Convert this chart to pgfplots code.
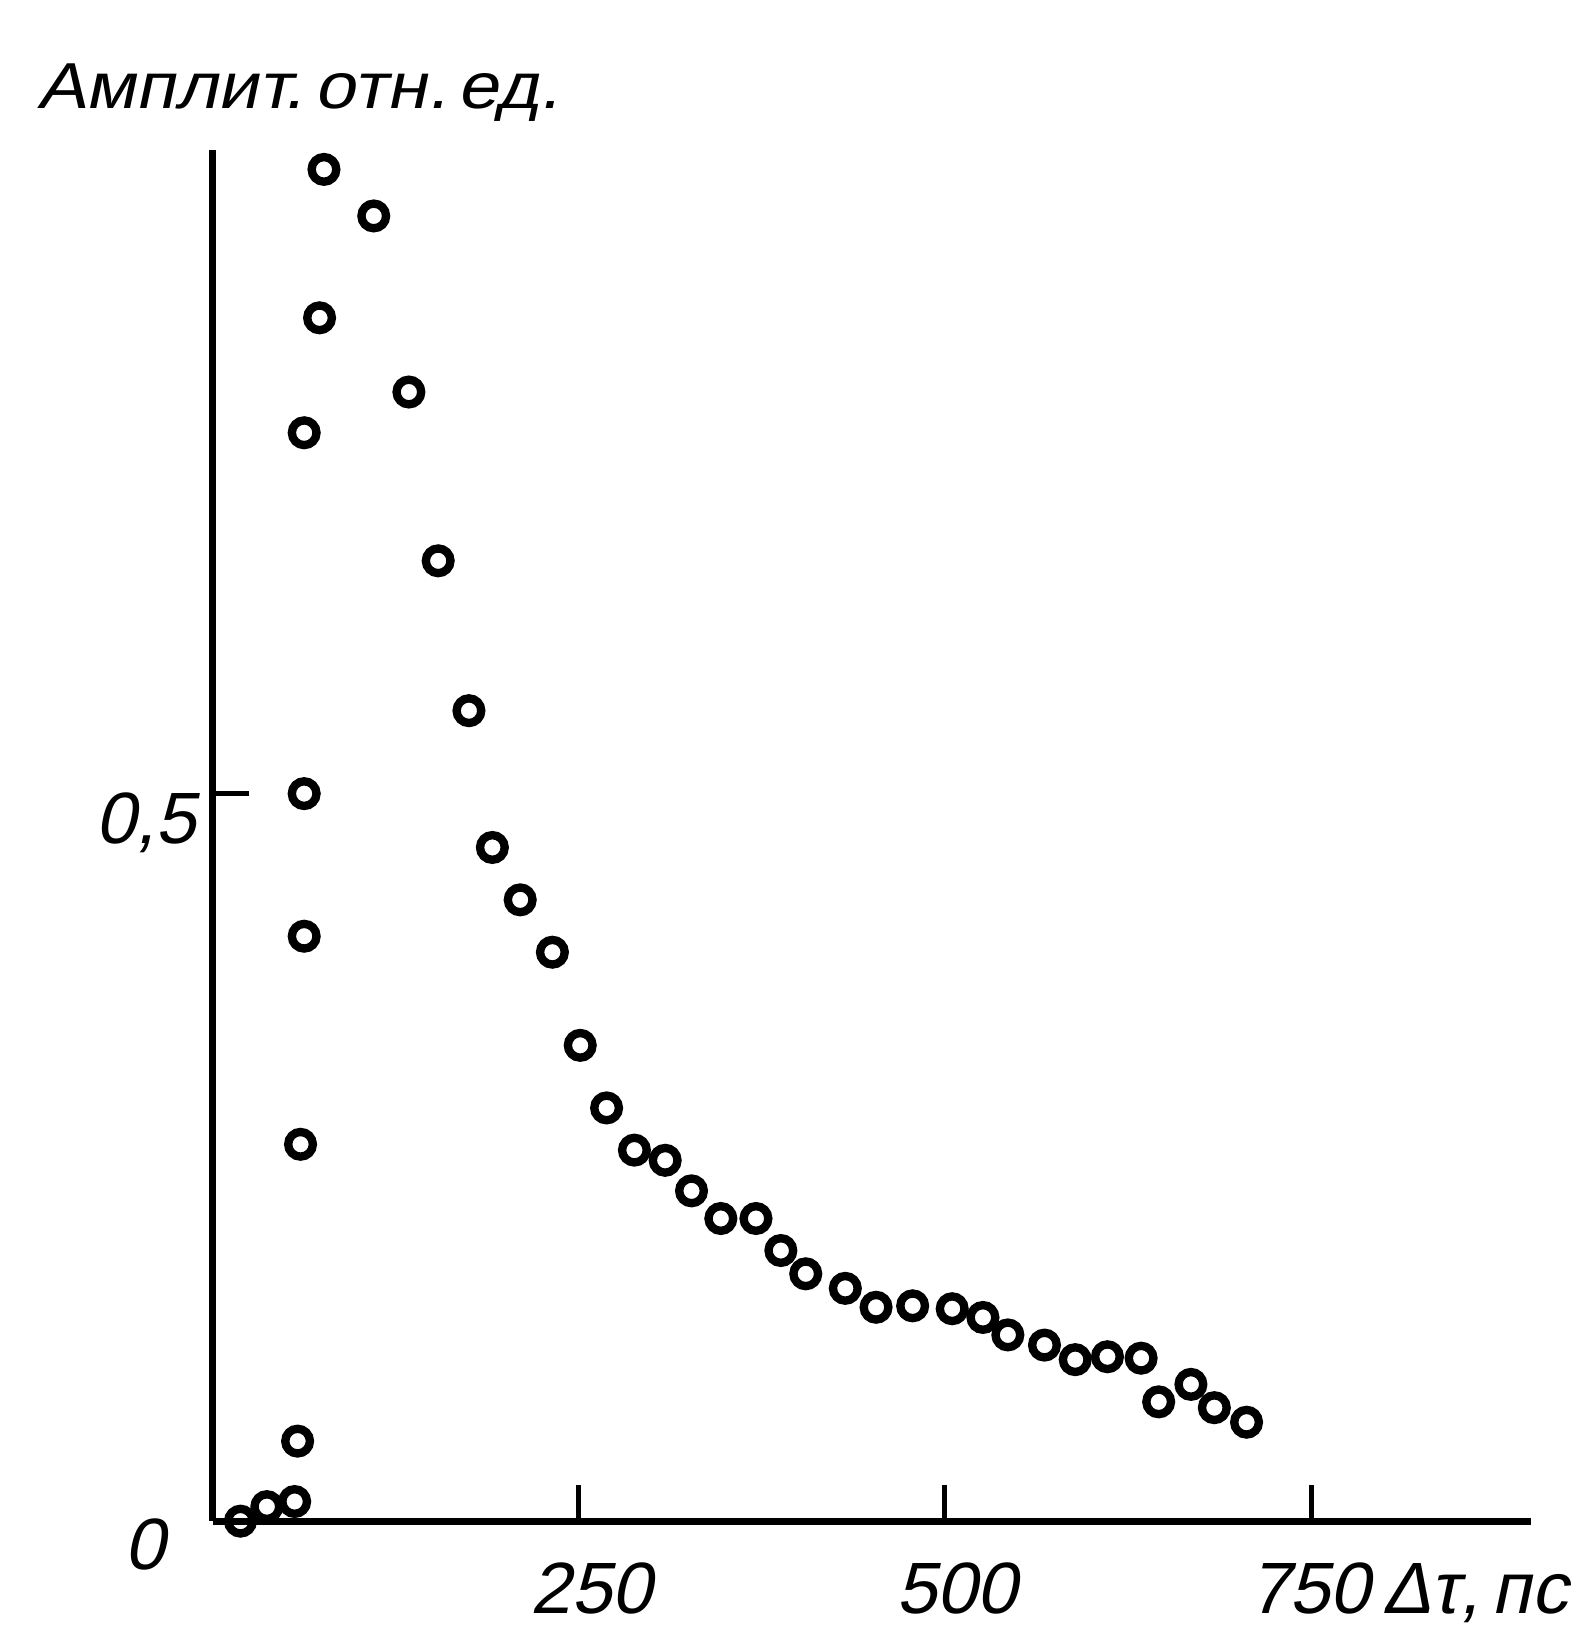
\documentclass[border=0pt]{standalone}
\usepackage{fontspec}
\setmainfont{Liberation Sans}
\newfontfamily\lblfont{Liberation Sans}[FakeSlant=0.21]
\newfontfamily\ttlfont{Liberation Sans}[FakeSlant=0.21, FakeStretch=1.12]
\usepackage{pgfplots}
\pgfplotsset{compat=1.18}

\pgfplotstableread{
x y
19 0
37 0.010
56 0.0135
58 0.055
60 0.259
62.5 0.402
62.5 0.5
62.5 0.748
73 0.827
76 0.929
110 0.897
134 0.776
154 0.660
175 0.557
191 0.463
210 0.427
232 0.391
251 0.327
269 0.284
288 0.255
309 0.248
327 0.227
347 0.208
371 0.208
388 0.186
405 0.170
432 0.160
453 0.147
478 0.148
505 0.146
526 0.140
543 0.128
568 0.121
589 0.111
611 0.113
634 0.112
646 0.082
668 0.094
684 0.078
706 0.068
}\amplitude

\begin{document}
\begin{tikzpicture}[x=1pt,y=1pt]
\useasboundingbox (0,0) rectangle (477.9,488.1);

\begin{axis}[%
at={(63.8pt,31.75pt)},
anchor=south west,
width=395.4pt,
height=411.2pt,
scale only axis,
xmin=0,
xmax=900,
ymin=0,
ymax=0.942,
axis lines=left,
axis line style={-, line width=2pt},
xtick={250,500,750},
ytick={0.5},
xticklabels={},
yticklabels={},
tick align=inside,
major tick length=11pt,
tick style={line width=1.5pt, black},
clip=false
]
\addplot[only marks, mark=o, mark size=3.7pt, line width=2.5pt, black] table[x=x, y=y] {\amplitude};
\end{axis}

\tikzset{lbl/.style={font=\lblfont\fontsize{21.8}{22}\selectfont, inner sep=0pt}}
\node[anchor=base west, inner sep=0pt, font=\ttlfont\fontsize{19.5}{20}\selectfont] at (10.9,455.4) {Амплит.\,отн.\,ед.};
\node[lbl, anchor=base east] at (59.1,235) {0,5};
\node[lbl, anchor=base east] at (49.8,17.4) {0};
\node[lbl, anchor=base] at (177.4,4.0) {250};
\node[lbl, anchor=base] at (287.0,4.0) {500};
\node[lbl, anchor=base] at (392.9,4.0) {750};
\node[lbl, anchor=base west] at (414.5,4.0) {Δτ,\,пс};
\end{tikzpicture}
\end{document}
